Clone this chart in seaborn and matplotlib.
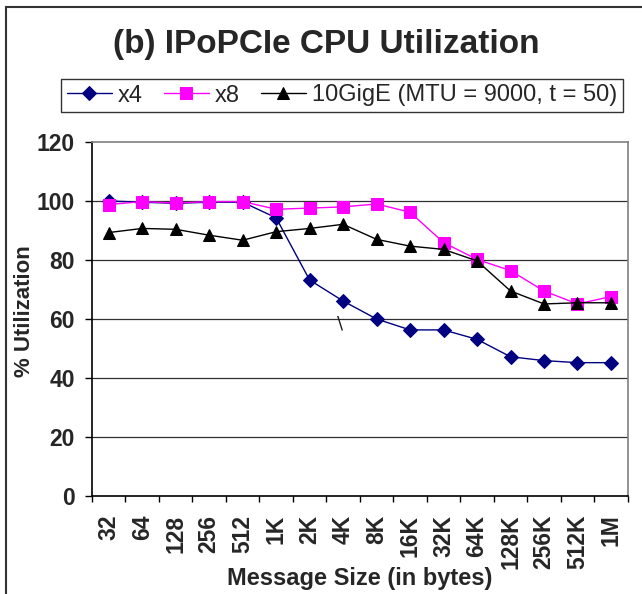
import matplotlib
matplotlib.use("Agg")
import matplotlib.pyplot as plt
import seaborn as sns
import pandas as pd
from matplotlib.patches import Rectangle
from matplotlib.ticker import FixedLocator

categories = ["32", "64", "128", "256", "512", "1K", "2K", "4K", "8K", "16K",
              "32K", "64K", "128K", "256K", "512K", "1M"]
x4 = [100.0, 99.6, 99.2, 99.6, 99.6, 94.3, 73.2, 66.1, 60.0, 56.3,
      56.3, 53.1, 47.2, 45.9, 45.2, 45.2]
x8 = [98.8, 99.8, 99.3, 99.8, 99.8, 97.2, 97.6, 98.0, 99.0, 96.2,
      85.9, 80.2, 76.4, 69.5, 65.1, 67.6]
gige = [89.3, 90.7, 90.4, 88.4, 86.7, 89.6, 90.7, 92.1, 87.0, 84.7,
        83.6, 79.7, 69.5, 65.1, 65.5, 65.5]
series_names = ["x4", "x8", "10GigE (MTU = 9000, t = 50)"]
y_ticks = [0, 20, 40, 60, 80, 100, 120]

rows = []
for name, vals in zip(series_names, [x4, x8, gige]):
    for i, v in enumerate(vals):
        rows.append({"pos": i, "util": v, "series": name})
df = pd.DataFrame(rows)

sns.set_style("white")
plt.rcParams["font.family"] = ["Liberation Sans", "DejaVu Sans"]

fig = plt.figure(figsize=(6.42, 5.94), dpi=100)
ax = fig.add_axes([92/642, 1-496/594, (627.7-92)/642, (496-142)/594])

palette = {series_names[0]: "#000080", series_names[1]: "#FF00FF", series_names[2]: "#000000"}
markers = {series_names[0]: "D", series_names[1]: "s", series_names[2]: "^"}
sizes_m = {series_names[0]: 7, series_names[1]: 8, series_names[2]: 9}

for name in series_names:
    sub = df[df["series"] == name]
    sns.lineplot(data=sub, x="pos", y="util", ax=ax, color=palette[name],
                 marker=markers[name], markersize=sizes_m[name],
                 markeredgecolor=palette[name], linewidth=1.0, label=name,
                 legend=False)

ax.set_xlim(-0.5, len(categories) - 0.5)
ax.set_ylim(0, 120)
ax.set_yticks(y_ticks)
ax.set_yticklabels([str(t) for t in y_ticks], fontsize=16.5, fontweight="bold")
ax.set_xticks(range(len(categories)))
ax.set_xticklabels(categories, rotation=90, fontsize=16.5, fontweight="bold")
ax.xaxis.set_minor_locator(FixedLocator([i - 0.5 for i in range(len(categories) + 1)]))
ax.tick_params(axis="x", which="major", length=0, pad=13.5)
ax.tick_params(axis="x", which="minor", length=4.5, width=1, color="#000000", direction="out", bottom=True)
ax.tick_params(axis="y", which="major", length=5, width=1, color="#000000", direction="out", left=True, pad=7.5)

for y in y_ticks[1:-1]:
    ax.axhline(y, color="#303030", linewidth=0.9, zorder=0)

ax.spines["left"].set_color("#000000")
ax.spines["bottom"].set_color("#000000")
ax.spines["top"].set_color("#808080")
ax.spines["right"].set_color("#808080")
for s in ax.spines.values():
    s.set_linewidth(1.2)

ax.set_xlabel("Message Size (in bytes)", fontsize=17, fontweight="bold")
ax.xaxis.label.set_va("center")
ax.xaxis.set_label_coords(0.5, (496 - 578) / 354)
ax.set_ylabel("% Utilization", fontsize=16, fontweight="bold")
ax.yaxis.label.set_va("center")
ax.yaxis.set_label_coords(-(92 - 25) / 535.7, (496 - 311) / 354)

# small stray stroke present in the original figure
ax.text(6.92, 58.6, "\\", fontsize=13, ha="center", va="center", color="#202020",
        family="DejaVu Sans")

fig.text(326 / 642, 1 - 45/594, "(b) IPoPCIe CPU Utilization", ha="center", va="center",
         fontsize=24, fontweight="bold")

handles, labels = ax.get_legend_handles_labels()
leg = fig.legend(handles, labels, loc="center",
                 bbox_to_anchor=((65 + 619) / 2 / 642, 1 - (79 + 112) / 2 / 594),
                 ncol=3, fontsize=17, frameon=True, fancybox=False,
                 edgecolor="#000000", handlelength=1.9, columnspacing=0.9,
                 handletextpad=0.25, borderpad=0.25, borderaxespad=0)
leg.get_frame().set_linewidth(1.0)

fig.patches.append(Rectangle((6/642, -0.02), 1.2, 1 - 7/594 + 0.02, transform=fig.transFigure,
                             fill=False, edgecolor="#333333", linewidth=1.5))

fig.savefig("out.png", dpi=100)
